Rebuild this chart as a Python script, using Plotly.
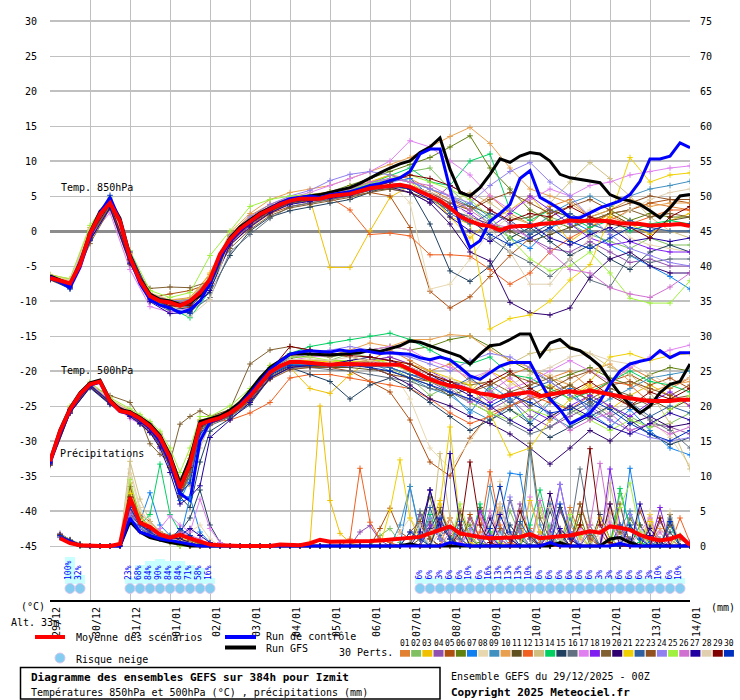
import plotly.graph_objects as go

# ---------------- time axes (hours after 29/12/2025 00Z) ----------------
HOURS_6 = list(range(0, 385, 6))
HOURS_12 = list(range(0, 385, 12))
HOURS_500 = [0, 12, 24, 36, 48, 54, 60, 66, 72, 78, 84, 90, 96] + list(range(108, 385, 12))
PRECIP_HOURS = list(range(6, 385, 6))
DAY_HOURS = list(range(0, 385, 24))
DAY_LABELS = ["29/12", "30/12", "31/12", "01/01", "02/01", "03/01", "04/01", "05/01", "06/01",
              "07/01", "08/01", "09/01", "10/01", "11/01", "12/01", "13/01", "14/01"]
LEFT_TICKS = list(range(-45, 31, 5))
RIGHT_TICKS = list(range(0, 76, 5))

# ---------------- mean / control / GFS (6-hourly) ----------------
MEAN_T850 = [-6.7, -7.1, -7.5, -4.8, -0.4, 2.4, 4.0, 1.4, -3.8, -7.1,
             -9.3, -10.0, -10.2, -10.7, -10.0, -8.8, -6.9, -3.3, -1.2, 0.3,
             1.4, 2.4, 3.1, 3.8, 4.3, 4.6, 4.6, 4.6, 5.0, 5.2,
             5.3, 5.7, 6.1, 6.3, 6.5, 6.6, 6.3, 5.7, 5.0, 4.3,
             3.3, 2.1, 1.4, 0.9, 0.7, 0.1, 0.6, 0.7, 0.7, 1.0,
             1.1, 1.2, 1.5, 1.4, 1.5, 1.5, 1.4, 1.1, 1.1, 1.0,
             0.8, 0.8, 0.9, 1.0, 0.7]
MEAN_T500 = [-32.9, -28.6, -25.5, -23.3, -21.9, -21.5, -24.3, -25.7, -26.0, -26.8,
             -27.9, -29.5, -32.4, -36.7, -33.3, -27.6, -27.1, -26.7, -26.0, -25.0,
             -23.6, -21.9, -20.2, -19.3, -18.7, -18.7, -18.8, -19.0, -19.1, -19.0,
             -19.0, -19.0, -19.1, -19.1, -19.1, -19.1, -19.8, -20.5, -21.2, -21.7,
             -22.1, -22.3, -22.8, -23.2, -23.4, -23.7, -23.4, -23.2, -23.0, -23.6,
             -23.3, -23.1, -22.9, -23.1, -22.8, -23.1, -23.4, -23.6, -23.9, -24.1,
             -24.3, -24.3, -24.3, -24.1, -24.1]
MEAN_PRECIP = [1.1, 0.4, 0.1, 0.0, 0.0, 0.0, 0.3, 6.9, 3.3, 2.7,
               1.6, 1.2, 1.6, 1.1, 0.6, 0.2, 0.1, 0.0, 0.0, 0.0,
               0.0, 0.0, 0.2, 0.1, 0.1, 0.4, 0.9, 0.6, 0.6, 0.6,
               0.6, 0.7, 0.8, 0.9, 1.0, 1.1, 1.3, 1.8, 2.3, 2.8,
               1.8, 1.5, 1.3, 1.1, 1.1, 1.2, 1.3, 1.7, 1.1, 1.3,
               1.4, 1.5, 1.8, 2.1, 1.9, 2.8, 2.6, 2.3, 1.6, 1.1,
               0.8, 1.0, 1.5, 0.1]
CTRL_T850 = [-6.5, -7.2, -8.1, -5.2, -0.8, 2.6, 4.8, 1.5, -4.0, -7.5,
             -9.8, -10.6, -11.0, -11.7, -11.2, -10.0, -7.5, -3.8, -1.5, 0.0,
             1.2, 2.3, 3.2, 4.0, 4.6, 4.8, 5.0, 4.8, 5.2, 5.4,
             5.6, 6.0, 6.5, 6.8, 7.2, 7.6, 8.5, 11.0, 11.7, 11.7,
             6.0, 1.0, -2.4, -1.4, 1.4, 2.5, 3.8, 7.5, 8.6, 4.8,
             4.0, 3.1, 1.9, 1.9, 2.6, 3.3, 3.8, 4.3, 5.2, 7.1,
             10.3, 10.3, 10.7, 12.6, 11.9]
CTRL_T500 = [-33.2, -28.8, -25.7, -23.4, -22.0, -21.6, -24.4, -25.8, -26.1, -27.0,
             -28.2, -30.0, -33.0, -37.5, -38.5, -30.0, -27.3, -26.8, -26.0, -24.8,
             -23.2, -21.5, -19.8, -18.6, -17.6, -17.3, -17.1, -17.2, -17.3, -17.0,
             -17.2, -17.0, -17.3, -17.5, -17.4, -17.5, -17.6, -18.1, -18.4, -18.0,
             -18.4, -19.5, -20.7, -21.2, -20.2, -19.3, -18.8, -18.8, -18.8, -21.5,
             -24.0, -25.5, -27.5, -26.8, -26.0, -24.3, -21.9, -20.0, -19.0, -18.6,
             -18.3, -17.1, -18.1, -17.4, -17.4]
CTRL_PRECIP = {6: 1.2, 12: 0.6, 18: 0.1, 48: 4.0, 54: 2.0, 60: 1.5, 66: 1.0, 72: 0.8, 78: 0.5,
               84: 0.3, 240: 0.5, 246: 0.3, 300: 0.5, 342: 0.4}
GFS_T850 = [-6.4, -7.0, -7.6, -4.6, -0.2, 2.8, 4.3, 1.8, -3.5, -6.8,
            -9.0, -9.8, -10.0, -10.5, -10.2, -9.2, -7.2, -3.5, -1.0, 0.6,
            1.6, 2.6, 3.3, 4.0, 4.5, 4.8, 5.0, 5.2, 5.5, 5.8,
            6.2, 6.8, 7.6, 8.3, 9.0, 9.6, 10.0, 11.2, 12.0, 13.3,
            8.8, 5.5, 5.0, 6.2, 8.1, 10.3, 9.8, 10.7, 11.2, 11.0,
            10.0, 8.1, 7.6, 7.4, 7.1, 6.9, 5.2, 4.6, 4.3, 3.8,
            2.9, 1.9, 3.3, 5.0, 5.2]
GFS_T500 = [-32.8, -28.4, -25.3, -23.1, -21.7, -21.3, -24.1, -25.5, -25.8, -26.6,
            -27.6, -29.2, -32.0, -36.0, -32.5, -27.2, -26.8, -26.4, -25.6, -24.5,
            -22.8, -21.0, -19.5, -18.6, -17.6, -17.5, -17.6, -17.6, -17.7, -17.6,
            -17.5, -17.4, -17.0, -17.2, -16.8, -16.4, -15.7, -15.9, -16.4, -16.9,
            -17.4, -17.9, -19.0, -17.6, -16.4, -16.2, -15.5, -14.7, -14.7, -17.9,
            -16.0, -15.5, -16.7, -17.1, -18.1, -19.3, -21.4, -23.3, -24.8, -26.0,
            -25.0, -23.1, -21.9, -21.5, -19.0]
GFS_PRECIP = {6: 1.1, 12: 0.5, 48: 3.5, 54: 2.0, 60: 1.2, 66: 0.8, 72: 0.5, 78: 0.3,
              216: 0.3, 306: 0.5, 336: 1.0, 342: 1.2, 348: 0.5}

# ---------------- 30 perturbations: T850 (12-hourly) ----------------
T850_01 = [-6.5, -7.3, -0.2, 4.2, -3.5, -9.0, -10.5, -10.2, -6.5, -0.5, 2.2, 3.8, 4.8, 5.2, 5.5, 6.0, 7.0, 8.0, 7.5, 6.0, 4.5, 3.0, 5.0, 2.5, 1.0, 3.5, 4.5, 2.0, 1.5, 3.0, 4.0, 3.5, 3.0]
T850_02 = [-6.6, -7.6, -0.8, 3.8, -4.0, -9.6, -10.8, -10.5, -7.5, -1.5, 1.0, 2.8, 4.0, 4.6, 5.2, 5.8, 6.5, 7.0, 8.5, 9.0, 6.0, 3.5, 1.0, -1.0, 0.5, 2.0, 1.0, -0.5, -1.5, -2.5, -1.0, -2.0, -2.0]
T850_03 = [-6.3, -7.0, 0.2, 4.5, -3.0, -9.0, -10.0, -9.8, -6.0, -0.5, 1.8, 3.5, 4.5, 4.5, -5.2, -5.2, 0.0, 4.8, 6.5, 5.5, 2.0, -1.0, 1.5, 3.0, 5.0, 2.0, -1.5, 0.5, 2.5, 1.0, -0.5, 1.5, 2.5]
T850_04 = [-6.8, -7.8, -1.0, 3.6, -4.5, -9.8, -10.5, -10.3, -7.8, -1.8, 0.8, 2.5, 4.0, 4.8, 5.5, 6.0, 6.5, 6.0, 5.5, 4.0, 6.5, 5.0, 3.0, 1.0, -1.0, -2.5, -3.0, -1.5, -3.0, -4.5, -4.0, -5.0, -5.0]
T850_05 = [-6.9, -8.0, -1.2, 3.5, -4.2, -9.5, -9.0, -8.5, -7.5, -2.0, 0.5, 2.5, 3.5, 4.0, 4.5, 5.0, 5.5, 5.0, 0.5, -8.6, -11.0, -9.4, -6.5, -3.5, -1.0, 0.5, 2.0, 1.0, 2.5, 3.0, 4.0, 4.5, 4.0]
T850_06 = [-6.5, -7.2, 0.0, 4.3, -3.6, -9.1, -10.1, -9.9, -6.8, -0.8, 1.6, 3.3, 4.6, 5.0, 5.6, 6.5, 7.5, 8.5, 9.5, 10.5, 12.0, 13.6, 9.0, 6.0, 3.0, 1.5, 0.5, 2.0, 3.0, 1.5, 2.5, 2.0, 2.0]
T850_07 = [-6.7, -7.4, -0.5, 4.1, -3.9, -9.5, -10.6, -10.8, -7.4, -1.3, 1.2, 3.0, 4.2, 4.5, 5.0, 5.4, 6.2, 7.0, 7.5, 5.0, 3.0, 4.0, 2.0, -1.0, -2.5, 0.5, 1.5, 0.0, -2.0, -3.5, -5.0, -6.5, -8.3]
T850_08 = [-6.4, -7.1, 0.3, 4.4, -3.3, -8.8, -9.8, -9.6, -6.5, -0.6, 1.8, 3.4, 4.5, 5.0, 5.2, 5.5, 6.0, 7.0, 4.0, -8.3, -7.6, -4.0, 0.0, 2.0, 1.0, -0.5, 1.5, 3.0, 2.0, -1.0, -2.0, -2.5, -3.0]
T850_09 = [-6.6, -7.5, -0.3, 4.0, -3.7, -9.2, -10.3, -10.1, -7.1, -1.0, 1.5, 3.2, 4.4, 4.8, 5.3, 5.8, 6.8, 7.5, 7.0, 6.0, 5.0, 3.5, 1.5, -2.0, -0.5, 2.5, 4.0, 5.0, 3.5, 5.0, 6.0, 6.5, 7.1]
T850_10 = [-6.2, -6.9, 0.5, 4.6, -3.2, -8.9, -9.9, -9.5, -6.2, -0.2, 2.5, 4.5, 5.5, 6.0, 6.5, 7.5, 8.5, 9.5, 10.5, 12.0, 13.5, 14.8, 12.5, 9.0, 6.0, 5.0, 4.0, 2.0, 3.0, 4.5, 3.5, 4.0, 4.0]
T850_11 = [-6.8, -7.7, -0.9, 3.7, -4.3, -9.7, -10.9, -10.6, -7.6, -1.6, 1.0, 2.8, 4.0, 4.4, 4.8, 5.2, 5.8, 6.0, 5.5, 4.5, 3.0, 2.0, 1.0, 0.0, -1.5, -0.5, 0.5, 1.5, 2.5, 1.0, 0.5, 1.5, 2.0]
T850_12 = [-6.6, -7.3, -0.4, 4.2, -3.6, -9.4, -10.4, -10.0, -7.0, -1.2, 1.4, 3.0, 4.2, 4.5, 4.8, 3.0, -0.5, -0.3, -0.7, -3.4, -3.4, -3.6, -5.5, -7.6, -6.0, -3.0, -1.0, 0.5, 2.0, 1.0, 2.0, 3.0, 3.0]
T850_13 = [-6.5, -7.4, -0.2, 4.1, -3.7, -9.1, -10.0, -9.8, -6.9, -0.9, 1.6, 3.3, 4.5, 4.9, 5.4, 5.9, 6.5, 7.0, 6.0, 5.0, 4.0, 5.5, 4.0, 2.0, 1.0, 4.0, 7.0, 9.8, 7.5, 5.0, 2.0, 0.0, -1.0]
T850_14 = [-6.7, -7.6, -0.6, 3.9, -3.9, -9.6, -11.0, -12.4, -8.5, -1.4, 1.2, 3.0, 4.3, 4.7, 5.2, 5.7, 6.8, 8.0, 9.0, 7.0, 6.5, 10.0, 11.0, 3.0, 1.5, 3.0, 2.0, 0.5, 1.5, 0.0, 1.0, 1.5, 1.0]
T850_15 = [-6.9, -7.9, -1.4, 3.4, -4.6, -10.0, -11.2, -11.0, -8.8, -3.5, 0.0, 2.0, 2.9, 3.4, 4.0, 4.5, 5.5, 6.5, 6.0, 1.0, -5.7, -7.2, -5.0, -1.0, 0.5, -1.5, -3.5, -2.0, -4.0, -5.5, -3.0, -2.0, -3.0]
T850_16 = [-6.8, -7.8, -1.0, 3.6, -4.4, -9.9, -11.5, -11.5, -9.5, -3.0, -0.5, 1.8, 3.5, 4.0, 4.5, 5.0, 5.8, 6.3, 6.0, 4.5, 3.0, 2.0, -1.0, -3.0, -4.5, -6.5, -4.0, -7.0, -8.0, -3.5, -4.5, -4.0, -4.0]
T850_17 = [-6.5, -7.2, -0.8, 2.6, -5.5, -10.8, -11.6, -11.0, -7.5, -1.0, 1.8, 3.5, 4.8, 5.5, 6.5, 7.5, 8.5, 10.0, 12.9, 12.0, 10.0, 8.0, 5.0, 3.0, 4.5, 6.0, 5.0, 6.5, 7.0, 8.0, 8.5, 9.0, 9.3]
T850_18 = [-6.7, -7.5, -0.4, 4.0, -3.8, -9.3, -10.2, -10.2, -7.3, -1.3, 1.3, 3.0, 4.2, 4.6, 5.1, 5.5, 6.3, 6.9, 6.5, 5.5, 4.0, 2.5, 0.5, 2.5, 5.0, 3.0, 1.0, -1.0, -2.0, -1.5, -2.5, -3.0, -3.0]
T850_19 = [-7.0, -8.2, -1.8, 3.2, -4.8, -8.2, -8.0, -8.1, -7.2, -2.5, 0.2, 2.2, 3.3, 3.8, 4.3, 4.8, 5.5, 6.0, 6.5, 5.5, 4.5, 3.5, 2.5, 1.5, 2.0, 3.0, 2.0, 1.5, 2.5, 3.0, 2.0, 2.5, 2.0]
T850_20 = [-6.6, -7.4, -0.3, 4.1, -3.8, -9.4, -10.5, -10.4, -7.2, -1.2, 1.3, 3.0, 4.2, 4.5, 5.0, 5.3, 6.0, 6.3, 5.5, 4.0, 1.0, -3.0, -4.3, -10.2, -11.7, -12.0, -11.0, -6.6, -4.0, -3.0, -5.0, -6.0, -6.0]
T850_21 = [-6.4, -7.1, 0.1, 4.4, -3.4, -9.0, -10.0, -9.7, -6.6, -0.7, 1.7, 3.4, 4.6, 5.0, 5.5, 6.2, 7.0, 8.0, 7.0, 5.0, 2.0, 1.0, -14.0, -12.5, -12.0, -10.0, -7.0, -4.8, 2.0, 10.5, 7.0, 8.0, 8.3]
T850_22 = [-6.7, -7.6, -0.7, 3.9, -4.0, -9.5, -10.6, -10.4, -7.3, -1.4, 1.1, 2.9, 4.1, 4.5, 4.9, 5.3, 6.0, 6.5, 6.0, 5.0, 2.5, 1.0, 2.5, 1.5, -0.5, 1.0, 2.5, 1.0, 0.0, 1.5, 0.5, 0.0, 0.0]
T850_23 = [-6.8, -7.7, -0.9, 3.7, -4.1, -9.6, -10.8, -10.9, -7.9, -1.7, 0.9, 2.7, 3.9, 4.3, 4.8, 5.2, 5.9, 6.4, 6.5, 5.5, 4.0, 3.0, 4.5, 5.5, 4.0, 2.5, 3.5, 4.5, 3.0, 4.0, 5.0, 4.5, 4.5]
T850_24 = [-6.5, -7.3, -0.1, 4.2, -3.5, -9.0, -10.0, -9.8, -6.7, -0.6, 2.0, 3.8, 5.0, 5.8, 7.2, 8.1, 8.5, 8.0, 7.0, 6.0, 5.0, 4.0, 6.5, 8.5, 9.8, 7.0, 5.0, 2.0, -0.5, -2.5, -3.5, -4.5, -5.0]
T850_25 = [-6.3, -6.8, 0.8, 4.8, -2.8, -8.5, -9.5, -8.8, -3.5, 0.0, 3.5, 4.5, 5.0, 5.2, 5.5, 6.0, 6.8, 7.5, 8.0, 7.0, 6.0, 4.5, 2.0, -1.0, -4.0, -5.7, -5.0, -3.0, -6.0, -9.6, -10.3, -10.3, -7.1]
T850_26 = [-6.6, -7.5, -0.5, 4.0, -3.9, -9.4, -10.3, -10.1, -7.1, -1.2, 1.4, 3.1, 4.3, 4.7, 5.3, 6.0, 7.0, 7.5, 7.0, 6.5, 5.0, 3.0, 1.0, 0.5, -1.0, -3.0, -5.5, -6.0, -8.1, -9.0, -9.5, -8.0, -6.0]
T850_27 = [-6.9, -8.1, -1.3, 3.3, -4.6, -10.1, -11.8, -11.6, -8.5, -2.0, 0.6, 2.6, 3.8, 4.2, 4.7, 5.1, 5.9, 6.6, 6.0, 4.5, 2.0, 0.0, -1.5, 0.5, 1.0, -1.0, -2.0, -0.5, 0.5, -1.5, -1.0, -1.5, -1.0]
T850_28 = [-6.4, -7.0, 0.2, 4.3, -3.4, -9.0, -10.6, -12.2, -9.8, -1.0, 1.5, 3.2, 4.4, 4.8, 5.2, 5.6, 6.2, 6.8, 6.5, 5.5, 4.5, 2.0, 0.5, -3.0, -7.6, -7.6, -4.0, -1.0, 1.0, 3.0, 4.5, 5.5, 6.0]
T850_29 = [-6.7, -7.6, -0.6, 3.9, -4.0, -9.5, -10.7, -10.6, -7.5, -1.5, 1.1, 2.9, 4.1, 4.5, 5.0, 5.4, 6.2, 7.0, 8.0, 7.5, 6.5, 5.0, 3.0, 1.5, 2.5, 2.0, 3.5, 2.0, 1.0, 0.5, -1.0, 2.0, 3.5]
T850_30 = [-6.8, -8.3, -1.1, 5.1, -3.0, -9.2, -11.0, -11.8, -7.8, -1.2, 1.2, 3.0, 4.1, 4.6, 5.0, 5.4, 6.1, 6.6, 6.2, 5.0, 3.5, 1.5, -0.5, -2.0, -1.0, 0.5, -1.5, -2.5, -1.0, 0.5, 0.0, 1.0, 1.0]

# ---------------- 30 perturbations: T500 (HOURS_500) ----------------
T500_01 = [-32.8, -25.4, -21.8, -24.2, -25.8, -26.5, -27.5, -29.0, -32.0, -37.5, -34.0, -27.5, -27.0, -26.0, -23.0, -19.5, -18.0, -17.5, -17.5, -18.0, -18.5, -17.0, -18.5, -20.0, -19.0, -21.5, -22.0, -20.5, -19.5, -21.0, -20.0, -22.5, -21.5, -19.5, -21.0, -22.5, -21.0]
T500_02 = [-33.0, -25.6, -22.0, -24.4, -26.0, -27.0, -28.0, -30.0, -33.0, -38.0, -35.0, -28.0, -27.2, -26.2, -24.0, -20.5, -19.0, -18.5, -18.5, -17.5, -18.0, -19.5, -21.0, -23.5, -22.0, -24.5, -22.5, -25.5, -27.0, -24.0, -25.5, -27.0, -25.0, -26.5, -28.0, -27.5, -26.0]
T500_03 = [-32.7, -25.3, -21.7, -24.0, -25.7, -26.6, -27.6, -29.2, -32.5, -36.0, -32.0, -27.0, -26.8, -25.5, -23.0, -19.8, -19.5, -22.5, -23.2, -20.5, -18.5, -18.0, -19.0, -20.5, -21.5, -23.0, -20.0, -21.5, -23.5, -22.0, -24.0, -22.0, -25.5, -23.5, -22.0, -23.5, -25.0]
T500_04 = [-33.1, -25.7, -22.1, -24.5, -26.2, -27.2, -28.4, -30.5, -33.5, -37.0, -33.0, -27.8, -27.3, -26.4, -24.2, -21.0, -19.5, -19.0, -19.2, -19.5, -18.5, -19.5, -20.5, -21.5, -23.0, -24.0, -25.5, -24.0, -26.5, -28.0, -26.5, -25.0, -27.0, -28.5, -27.5, -28.0, -29.0]
T500_05 = [-33.2, -25.8, -22.2, -24.6, -26.3, -27.4, -28.6, -30.8, -33.8, -37.5, -33.5, -28.0, -27.5, -26.5, -24.5, -21.0, -19.5, -19.3, -19.5, -20.0, -21.5, -23.0, -27.0, -33.0, -35.0, -29.6, -26.0, -25.0, -24.0, -23.0, -22.0, -23.5, -21.5, -20.5, -22.0, -21.0, -22.5]
T500_06 = [-32.8, -25.5, -21.9, -24.2, -25.9, -26.7, -27.8, -29.4, -32.2, -36.5, -33.0, -27.4, -26.9, -25.8, -23.2, -19.7, -18.2, -17.8, -18.0, -17.5, -17.0, -16.5, -17.0, -16.5, -15.5, -15.0, -16.5, -18.5, -20.0, -21.5, -20.5, -19.5, -21.0, -22.0, -20.5, -19.5, -20.0]
T500_07 = [-32.9, -25.5, -21.9, -24.3, -26.0, -26.9, -28.0, -29.8, -33.2, -38.5, -35.5, -28.5, -27.5, -26.3, -24.0, -20.5, -19.0, -19.0, -19.5, -19.2, -19.0, -19.5, -20.5, -21.0, -23.0, -26.0, -22.0, -24.0, -27.5, -24.5, -22.5, -26.0, -28.0, -25.5, -28.5, -31.0, -32.0]
T500_08 = [-32.6, -25.2, -21.6, -24.0, -25.6, -26.4, -27.4, -28.8, -31.5, -36.0, -33.5, -27.5, -27.0, -25.8, -23.5, -20.0, -18.7, -18.7, -19.0, -19.0, -19.0, -19.5, -24.0, -31.0, -33.9, -30.0, -26.0, -24.5, -22.0, -20.5, -22.0, -24.5, -26.0, -24.0, -27.0, -29.5, -33.5]
T500_09 = [-33.0, -25.6, -22.0, -24.4, -26.1, -27.0, -28.2, -29.8, -32.8, -37.0, -34.0, -28.0, -27.2, -26.0, -23.8, -20.4, -19.0, -19.2, -19.5, -19.0, -18.8, -20.0, -21.0, -22.5, -23.5, -25.5, -27.0, -25.0, -23.5, -26.5, -28.0, -25.5, -24.0, -22.5, -21.0, -20.5, -20.0]
T500_10 = [-32.7, -25.3, -21.7, -24.1, -25.7, -26.5, -27.5, -29.0, -31.8, -35.5, -32.5, -27.0, -26.7, -25.5, -22.8, -19.2, -17.8, -17.5, -17.8, -17.0, -16.0, -16.5, -15.5, -15.5, -14.8, -15.0, -17.0, -18.5, -19.5, -21.0, -22.0, -20.0, -19.0, -21.5, -23.0, -22.0, -21.5]
T500_11 = [-33.1, -25.7, -22.1, -24.5, -26.2, -27.1, -28.3, -30.0, -33.0, -37.5, -34.5, -28.2, -27.5, -26.4, -24.2, -20.8, -19.3, -19.3, -19.5, -19.5, -19.8, -20.0, -21.0, -22.0, -23.5, -22.5, -24.0, -23.0, -25.0, -23.5, -22.0, -24.5, -23.0, -25.0, -24.0, -25.5, -24.0]
T500_12 = [-32.9, -25.5, -21.9, -24.3, -25.9, -26.8, -27.9, -29.5, -32.5, -37.0, -33.5, -27.8, -27.3, -27.0, -26.0, -24.5, -21.0, -20.5, -20.5, -21.0, -21.5, -22.0, -22.5, -24.0, -26.0, -27.5, -26.5, -25.0, -23.5, -24.5, -25.5, -23.5, -21.5, -22.0, -24.5, -22.0, -21.0]
T500_13 = [-32.8, -25.4, -21.8, -24.2, -25.8, -26.6, -27.6, -29.0, -31.8, -35.5, -36.5, -31.0, -27.5, -26.2, -23.8, -20.2, -18.6, -18.5, -18.5, -18.8, -18.5, -18.5, -19.5, -21.0, -22.0, -21.5, -20.0, -19.0, -17.5, -17.0, -16.5, -17.5, -19.5, -20.5, -23.0, -27.5, -34.0]
T500_14 = [-33.0, -25.6, -22.0, -24.4, -26.0, -26.9, -28.0, -29.6, -32.6, -36.8, -33.5, -27.8, -27.2, -25.9, -23.2, -19.5, -17.5, -16.5, -16.0, -15.5, -15.0, -14.6, -15.5, -17.0, -18.5, -19.0, -18.0, -20.5, -21.0, -22.5, -24.0, -23.0, -21.5, -20.0, -21.5, -22.0, -23.0]
T500_15 = [-33.3, -26.0, -22.4, -24.8, -26.5, -27.6, -28.8, -30.5, -33.8, -38.0, -39.5, -33.0, -28.6, -26.8, -24.8, -21.0, -19.5, -20.5, -21.5, -24.0, -22.0, -21.0, -22.5, -24.5, -26.5, -28.5, -27.0, -25.5, -27.5, -29.5, -28.0, -26.5, -25.0, -27.0, -29.0, -30.5, -29.5]
T500_16 = [-33.1, -25.8, -22.2, -24.6, -26.3, -27.3, -28.5, -30.2, -33.4, -37.8, -35.0, -28.8, -27.8, -26.6, -24.5, -21.0, -19.6, -19.5, -19.8, -20.0, -20.5, -21.0, -21.5, -22.5, -23.0, -24.5, -26.0, -27.5, -29.0, -28.0, -26.0, -24.5, -26.5, -25.0, -27.0, -28.5, -31.0]
T500_17 = [-32.6, -25.3, -21.7, -24.4, -26.8, -27.5, -28.5, -29.8, -32.0, -36.0, -33.0, -27.5, -27.0, -25.8, -23.5, -20.0, -18.5, -18.0, -17.8, -17.5, -17.0, -16.5, -17.0, -18.5, -19.5, -21.0, -20.0, -22.5, -21.5, -20.0, -18.5, -20.0, -21.5, -19.5, -18.0, -17.0, -16.3]
T500_18 = [-33.0, -25.6, -22.0, -24.3, -26.0, -26.9, -28.0, -29.5, -32.5, -37.0, -33.5, -27.7, -27.2, -26.1, -23.7, -20.3, -18.9, -19.0, -19.0, -18.8, -18.5, -18.0, -19.0, -20.0, -21.5, -22.5, -24.5, -23.0, -25.5, -27.0, -25.0, -23.5, -25.0, -26.5, -24.5, -23.0, -25.0]
T500_19 = [-33.5, -26.0, -22.0, -23.5, -24.5, -26.7, -30.4, -31.9, -33.0, -27.6, -26.5, -25.7, -26.5, -25.5, -19.0, -17.0, -16.5, -17.0, -17.5, -18.0, -18.5, -19.0, -20.0, -21.0, -21.5, -22.0, -21.5, -23.0, -22.0, -21.0, -23.0, -24.0, -22.5, -23.5, -25.0, -24.0, -23.5]
T500_20 = [-32.9, -25.5, -21.9, -24.3, -25.9, -26.8, -27.9, -29.5, -32.4, -36.5, -33.0, -27.5, -27.0, -26.0, -23.5, -20.0, -18.6, -18.7, -19.0, -19.0, -19.5, -20.5, -22.0, -24.0, -25.0, -26.5, -27.5, -29.0, -31.0, -33.3, -31.0, -28.5, -30.0, -27.5, -26.5, -28.0, -27.5]
T500_21 = [-32.7, -25.3, -21.8, -24.2, -25.8, -26.6, -27.7, -29.2, -32.0, -36.2, -33.0, -27.3, -26.9, -25.8, -23.4, -20.0, -18.5, -18.5, -18.7, -18.6, -18.5, -18.5, -19.0, -20.0, -21.0, -22.0, -26.0, -32.0, -31.0, -27.0, -24.0, -21.5, -18.0, -17.5, -18.5, -17.8, -17.5]
T500_22 = [-33.0, -25.6, -22.0, -24.4, -26.0, -26.9, -28.1, -29.7, -32.8, -37.2, -34.0, -28.0, -27.3, -26.2, -23.9, -20.5, -19.0, -19.0, -19.2, -19.2, -19.3, -19.5, -20.5, -21.5, -22.5, -21.0, -23.0, -24.5, -22.5, -21.5, -23.5, -25.0, -23.0, -24.5, -26.5, -25.0, -26.0]
T500_23 = [-33.2, -25.8, -22.2, -24.6, -26.4, -27.3, -28.6, -30.4, -33.6, -37.8, -34.5, -28.5, -27.6, -26.4, -24.3, -21.2, -19.8, -19.5, -19.5, -19.0, -19.5, -20.5, -21.0, -21.5, -22.0, -23.0, -22.0, -20.5, -21.5, -22.5, -21.0, -20.0, -22.0, -21.5, -22.5, -23.5, -22.0]
T500_24 = [-32.8, -25.4, -21.8, -24.2, -25.8, -26.6, -27.6, -29.1, -31.9, -35.8, -32.8, -27.2, -26.8, -25.6, -23.1, -19.6, -18.1, -17.6, -17.0, -16.5, -17.0, -17.5, -18.0, -19.0, -20.0, -18.5, -17.5, -18.0, -19.5, -21.5, -23.5, -25.5, -27.0, -28.5, -29.5, -30.0, -29.5]
T500_25 = [-32.5, -25.0, -21.6, -23.8, -25.4, -26.2, -27.2, -28.6, -31.0, -34.5, -31.0, -26.5, -26.5, -25.0, -22.5, -19.2, -18.0, -18.0, -18.5, -18.5, -18.0, -19.0, -20.0, -21.5, -22.5, -24.5, -26.0, -27.0, -25.5, -26.5, -25.0, -27.0, -28.5, -27.0, -28.0, -25.5, -23.5]
T500_26 = [-32.9, -25.5, -21.9, -24.3, -26.0, -26.9, -28.0, -29.6, -32.6, -36.8, -33.3, -27.6, -27.1, -26.0, -23.6, -20.2, -18.8, -18.8, -19.0, -19.0, -19.0, -19.0, -19.5, -21.0, -22.5, -24.5, -23.0, -21.0, -23.5, -26.0, -28.5, -27.0, -26.0, -28.5, -27.5, -29.0, -28.0]
T500_27 = [-33.3, -26.0, -22.3, -24.7, -26.5, -27.5, -28.8, -31.0, -34.5, -39.0, -38.0, -36.4, -29.5, -27.0, -24.5, -21.0, -19.5, -19.2, -19.0, -18.5, -18.0, -18.5, -19.5, -20.5, -22.0, -23.5, -25.0, -27.0, -28.5, -26.5, -25.0, -26.5, -28.0, -29.0, -27.5, -26.0, -27.0]
T500_28 = [-32.7, -25.3, -21.7, -24.1, -25.8, -26.6, -27.7, -29.3, -32.3, -36.5, -33.0, -27.4, -26.9, -25.7, -23.3, -19.9, -18.4, -18.3, -18.5, -18.0, -18.5, -19.0, -19.5, -20.5, -21.0, -22.5, -24.0, -22.0, -20.5, -19.5, -18.0, -17.5, -18.5, -19.0, -20.5, -22.0, -21.0]
T500_29 = [-33.0, -25.6, -22.0, -24.4, -26.0, -26.9, -28.0, -29.6, -32.7, -37.0, -33.8, -27.9, -27.3, -26.2, -23.9, -20.0, -16.5, -17.0, -17.5, -17.8, -18.0, -18.5, -19.0, -20.5, -21.5, -23.0, -21.5, -20.0, -22.5, -24.0, -23.0, -21.5, -23.5, -25.0, -23.0, -24.0, -22.5]
T500_30 = [-33.0, -25.6, -22.0, -24.4, -26.1, -27.0, -28.2, -30.0, -33.0, -37.5, -36.0, -29.0, -27.4, -26.3, -24.0, -20.6, -19.2, -19.2, -19.3, -19.2, -19.5, -20.0, -21.0, -22.0, -23.0, -24.0, -25.0, -23.5, -24.5, -26.0, -25.5, -24.0, -25.5, -27.5, -29.0, -30.0, -28.5]

# ---------------- 30 perturbations: precipitation (mm / 6 h; hour: value, other steps are 0) ----------------
P_01 = {6: 1.5, 12: 0.8, 18: 0.2, 42: 0.3, 48: 6.5, 54: 3.0, 60: 2.5, 66: 1.0, 72: 1.5, 78: 2.0, 84: 0.8, 90: 0.3, 234: 3.5, 240: 1.0, 258: 4.0, 264: 1.0, 288: 2.5, 294: 0.5, 312: 5.5, 318: 1.5, 336: 6.0, 342: 2.0, 378: 1.5}
P_02 = {6: 1.3, 12: 0.6, 18: 0.1, 48: 5.0, 54: 2.8, 60: 2.0, 66: 1.5, 72: 0.8, 78: 0.5, 84: 0.3, 198: 1.5, 204: 2.5, 210: 0.5, 246: 4.5, 252: 1.0, 276: 5.0, 282: 1.5, 300: 3.0, 306: 1.0, 342: 7.5, 348: 3.0, 354: 0.5}
P_03 = {6: 1.6, 12: 0.9, 18: 0.3, 42: 0.4, 48: 8.0, 54: 4.0, 60: 3.0, 66: 2.0, 72: 1.0, 78: 1.2, 84: 0.6, 90: 0.2, 156: 0.5, 162: 20.0, 168: 6.5, 174: 1.8, 180: 0.5, 228: 3.0, 234: 6.5, 240: 1.0, 264: 2.0, 270: 0.5, 318: 3.0, 324: 1.0, 360: 4.5}
P_04 = {6: 1.4, 12: 0.7, 18: 0.2, 48: 4.5, 54: 3.5, 60: 2.5, 66: 1.8, 72: 1.0, 78: 0.8, 84: 0.4, 186: 2.0, 192: 2.9, 198: 0.8, 222: 4.5, 228: 1.0, 252: 4.0, 258: 1.0, 282: 6.0, 288: 1.5, 306: 5.0, 312: 2.0, 330: 3.5, 366: 3.5, 372: 1.0}
P_05 = {6: 1.5, 12: 0.7, 18: 0.2, 48: 7.0, 54: 4.5, 60: 3.5, 66: 2.0, 72: 1.5, 78: 1.0, 84: 0.5, 198: 2.5, 204: 5.4, 210: 2.0, 216: 1.0, 222: 3.0, 228: 1.0, 252: 4.5, 258: 1.0, 282: 2.5, 288: 1.0, 330: 2.0, 354: 5.0, 360: 1.5}
P_06 = {6: 1.2, 12: 0.6, 48: 5.5, 54: 3.0, 60: 2.0, 66: 1.2, 72: 0.6, 78: 0.4, 222: 3.5, 228: 7.0, 234: 1.5, 246: 1.5, 252: 3.0, 258: 0.5, 294: 2.0, 300: 1.0, 318: 4.5, 348: 4.0, 354: 1.5, 360: 0.5}
P_07 = {6: 1.4, 12: 0.8, 18: 0.2, 48: 6.0, 54: 3.5, 60: 7.6, 66: 3.0, 72: 1.5, 78: 1.0, 84: 7.0, 90: 2.0, 96: 0.5, 216: 8.5, 222: 2.0, 246: 3.5, 270: 4.0, 276: 10.4, 282: 10.2, 288: 2.0, 348: 11.1, 354: 3.0, 360: 0.5}
P_08 = {6: 1.6, 12: 0.9, 18: 0.3, 48: 10.4, 54: 5.0, 60: 3.0, 66: 1.5, 72: 1.0, 78: 0.6, 84: 2.0, 90: 3.0, 96: 1.0, 210: 2.0, 216: 4.0, 222: 2.0, 234: 4.5, 240: 1.0, 270: 9.2, 276: 2.0, 300: 6.5, 306: 2.0, 324: 4.0, 330: 1.0, 360: 5.0}
P_09 = {6: 1.3, 12: 0.6, 18: 0.1, 48: 5.5, 54: 2.5, 60: 2.0, 66: 1.0, 72: 0.8, 78: 1.5, 84: 1.0, 90: 0.5, 210: 3.0, 216: 8.5, 222: 1.5, 264: 8.5, 270: 2.0, 288: 13.7, 294: 3.0, 312: 4.0, 342: 2.5, 348: 5.0, 354: 1.0}
P_10 = {6: 1.5, 12: 0.8, 18: 0.2, 48: 9.0, 54: 4.5, 60: 2.5, 66: 1.2, 72: 0.6, 78: 0.4, 234: 2.0, 240: 4.0, 246: 1.0, 270: 6.0, 276: 1.5, 312: 3.0, 318: 1.0, 336: 5.0, 342: 2.0, 366: 2.5, 372: 1.0}
P_11 = {6: 1.4, 12: 0.7, 18: 0.2, 48: 4.0, 54: 2.5, 60: 1.8, 66: 1.0, 72: 0.6, 78: 1.0, 84: 0.5, 222: 1.0, 228: 3.5, 234: 1.0, 258: 5.5, 264: 1.5, 300: 2.0, 306: 5.5, 312: 1.0, 354: 3.0, 360: 1.0}
P_12 = {6: 1.5, 12: 0.8, 18: 0.2, 48: 6.0, 54: 3.0, 60: 2.5, 66: 1.5, 72: 1.0, 78: 0.6, 84: 0.3, 180: 1.0, 186: 11.1, 192: 3.4, 198: 1.0, 204: 0.5, 240: 4.0, 246: 1.0, 258: 2.0, 264: 10.6, 270: 3.0, 276: 0.5, 318: 6.0, 324: 2.0, 378: 4.0, 384: 0.5}
P_13 = {6: 1.6, 12: 0.9, 18: 0.3, 42: 0.5, 48: 12.1, 54: 6.7, 60: 3.5, 66: 2.0, 72: 1.0, 78: 0.8, 84: 0.5, 234: 13.2, 240: 4.0, 246: 1.0, 270: 5.5, 276: 1.5, 294: 5.0, 300: 1.5, 336: 9.0, 342: 2.0, 366: 4.0}
P_14 = {6: 1.3, 12: 0.6, 48: 5.0, 54: 3.0, 60: 4.5, 66: 11.7, 72: 4.5, 78: 2.0, 84: 1.0, 90: 0.4, 228: 4.5, 234: 1.0, 258: 6.0, 264: 2.0, 288: 3.0, 294: 8.0, 300: 2.0, 342: 8.2, 348: 2.5, 354: 0.5, 372: 3.0}
P_15 = {6: 1.4, 12: 0.7, 18: 0.2, 48: 4.5, 54: 3.0, 60: 2.0, 66: 1.5, 72: 1.0, 78: 2.0, 84: 4.0, 90: 8.0, 96: 3.0, 102: 0.5, 228: 2.5, 234: 5.0, 240: 1.5, 276: 3.0, 282: 1.0, 300: 5.0, 306: 1.5, 330: 4.5, 336: 1.0, 372: 2.0}
P_16 = {6: 1.5, 12: 0.8, 18: 0.2, 48: 5.5, 54: 3.0, 60: 2.0, 66: 1.5, 72: 0.8, 78: 0.5, 84: 0.3, 222: 5.0, 228: 1.0, 246: 2.5, 252: 1.0, 276: 6.5, 282: 2.0, 312: 2.0, 318: 11.0, 324: 3.0, 360: 3.0, 366: 1.0}
P_17 = {6: 1.3, 12: 0.7, 18: 0.2, 48: 3.5, 54: 2.0, 60: 1.5, 66: 2.5, 72: 4.3, 78: 3.0, 84: 2.0, 90: 6.7, 96: 2.5, 102: 0.5, 252: 2.0, 258: 4.5, 264: 1.0, 288: 7.0, 294: 1.5, 318: 2.5, 324: 1.0, 336: 4.0, 354: 2.0, 360: 4.0}
P_18 = {6: 1.8, 12: 0.9, 18: 0.3, 48: 6.0, 54: 3.5, 60: 2.5, 66: 1.5, 72: 0.8, 78: 0.6, 84: 0.3, 228: 3.0, 234: 1.0, 258: 5.0, 264: 1.5, 300: 2.0, 306: 8.8, 312: 2.0, 336: 11.0, 342: 3.0, 366: 5.5, 384: 0.5}
P_19 = {6: 1.5, 12: 0.7, 18: 0.2, 48: 8.5, 54: 4.0, 60: 2.5, 66: 1.0, 72: 0.5, 234: 5.5, 240: 1.5, 282: 3.0, 288: 14.7, 294: 4.0, 300: 1.0, 318: 6.0, 324: 1.5, 342: 2.0, 348: 1.0, 372: 4.5}
P_20 = {6: 1.4, 12: 0.7, 18: 0.2, 48: 5.0, 54: 3.0, 60: 2.2, 66: 1.6, 72: 1.2, 78: 1.0, 84: 0.5, 228: 8.0, 234: 3.0, 240: 1.0, 264: 4.0, 270: 1.0, 300: 7.5, 306: 2.0, 336: 6.0, 360: 2.5, 366: 0.5}
P_21 = {6: 1.5, 12: 0.8, 18: 0.2, 48: 7.5, 54: 3.5, 60: 2.5, 66: 1.5, 72: 1.0, 78: 0.5, 204: 5.1, 210: 12.3, 216: 4.0, 222: 1.0, 234: 6.0, 240: 17.0, 246: 3.0, 252: 0.5, 288: 6.5, 294: 2.0, 330: 4.0, 336: 1.0, 360: 3.5}
P_22 = {6: 1.4, 12: 0.7, 18: 0.2, 48: 4.0, 54: 2.5, 60: 1.5, 66: 1.0, 72: 0.8, 78: 0.6, 84: 0.4, 228: 5.5, 234: 1.5, 240: 2.5, 246: 1.0, 282: 3.5, 288: 1.0, 300: 6.0, 306: 1.0, 324: 2.0, 342: 3.0, 348: 1.0, 372: 4.0}
P_23 = {6: 1.6, 12: 0.8, 18: 0.2, 48: 6.5, 54: 3.5, 60: 2.5, 66: 1.5, 72: 1.0, 78: 1.5, 84: 0.8, 90: 0.3, 216: 2.0, 222: 3.5, 228: 1.0, 246: 5.0, 252: 1.5, 270: 2.5, 276: 1.0, 318: 3.0, 324: 1.0, 342: 6.0, 372: 3.0, 378: 1.0}
P_24 = {6: 1.3, 12: 0.6, 48: 4.5, 54: 2.5, 60: 2.0, 66: 1.5, 72: 0.8, 78: 0.5, 228: 4.0, 234: 1.0, 252: 2.5, 258: 1.0, 276: 7.0, 282: 2.0, 306: 8.8, 312: 2.0, 348: 4.5, 354: 1.5}
P_25 = {6: 1.7, 12: 0.9, 18: 0.3, 48: 9.5, 54: 4.0, 60: 2.5, 66: 1.0, 72: 0.5, 246: 6.0, 252: 1.5, 294: 5.5, 300: 1.5, 312: 4.5, 318: 1.5, 342: 5.5, 348: 9.0, 354: 2.0, 378: 1.5}
P_26 = {6: 1.4, 12: 0.7, 18: 0.2, 48: 5.0, 54: 3.0, 60: 2.0, 66: 1.5, 72: 1.0, 78: 2.0, 84: 1.5, 90: 1.0, 240: 2.0, 246: 0.5, 264: 5.0, 270: 1.0, 294: 6.5, 300: 1.5, 324: 3.0, 330: 11.8, 336: 3.0, 342: 1.0, 366: 2.0}
P_27 = {6: 1.5, 12: 0.8, 18: 0.2, 48: 6.5, 54: 3.5, 60: 2.5, 66: 1.5, 72: 1.0, 78: 1.5, 84: 2.5, 90: 1.5, 96: 0.5, 222: 2.0, 228: 8.0, 234: 2.0, 240: 13.2, 246: 3.0, 270: 4.5, 276: 1.0, 306: 2.5, 312: 1.0, 354: 6.0, 360: 1.5}
P_28 = {6: 1.5, 12: 0.8, 18: 0.2, 48: 11.0, 54: 5.5, 60: 3.0, 66: 1.5, 72: 1.0, 78: 0.6, 84: 0.4, 222: 3.0, 234: 2.0, 264: 3.0, 270: 6.0, 276: 1.5, 300: 5.5, 306: 1.0, 330: 2.0, 336: 4.0, 342: 1.0, 372: 5.0}
P_29 = {6: 1.6, 12: 0.8, 18: 0.2, 48: 7.0, 54: 3.5, 60: 2.5, 66: 1.5, 72: 0.8, 78: 0.5, 246: 2.0, 252: 12.0, 258: 3.0, 264: 0.5, 282: 5.0, 288: 1.5, 318: 3.0, 324: 13.9, 330: 3.0, 336: 0.5, 366: 4.0}
P_30 = {6: 1.5, 12: 0.8, 18: 0.2, 48: 5.5, 54: 3.0, 60: 2.0, 66: 1.2, 72: 0.8, 78: 2.5, 84: 1.5, 90: 0.5, 216: 2.0, 222: 1.0, 234: 4.0, 240: 1.0, 264: 2.5, 270: 8.5, 276: 2.0, 306: 6.0, 312: 1.5, 348: 3.0, 354: 1.0, 372: 3.5}

MEMBER_COLORS = ["#e08030", "#80c060", "#f0c000", "#9050b0", "#b05010", "#608010", "#1080f0", "#e8d8b0",
                 "#4090c0", "#e8a050", "#605020", "#f06020", "#d0c080", "#00d060", "#204060", "#607080",
                 "#e080f0", "#8020f0", "#806030", "#300070", "#f0d000", "#3060a0", "#905020", "#9080f0",
                 "#a0f040", "#d070d0", "#2000a0", "#e0d0b0", "#800000", "#0030c0"]

# ---------------- snow risk (% of members) ----------------
SNOW_HOURS = [12, 18, 48, 54, 60, 66, 72, 78, 84, 90, 96] + list(range(222, 379, 6))
SNOW_PCT = [100, 32, 23, 68, 84, 90, 84, 84, 71, 58, 16,
            6, 6, 3, 6, 6, 10, 6, 16, 13, 13, 13, 10, 6, 6, 6, 6, 6, 6, 3, 3, 6, 6, 6, 3, 10, 6, 10]

T850_M = [T850_01, T850_02, T850_03, T850_04, T850_05, T850_06, T850_07, T850_08, T850_09, T850_10,
          T850_11, T850_12, T850_13, T850_14, T850_15, T850_16, T850_17, T850_18, T850_19, T850_20,
          T850_21, T850_22, T850_23, T850_24, T850_25, T850_26, T850_27, T850_28, T850_29, T850_30]
T500_M = [T500_01, T500_02, T500_03, T500_04, T500_05, T500_06, T500_07, T500_08, T500_09, T500_10,
          T500_11, T500_12, T500_13, T500_14, T500_15, T500_16, T500_17, T500_18, T500_19, T500_20,
          T500_21, T500_22, T500_23, T500_24, T500_25, T500_26, T500_27, T500_28, T500_29, T500_30]
P_M = [P_01, P_02, P_03, P_04, P_05, P_06, P_07, P_08, P_09, P_10, P_11, P_12, P_13, P_14, P_15,
       P_16, P_17, P_18, P_19, P_20, P_21, P_22, P_23, P_24, P_25, P_26, P_27, P_28, P_29, P_30]

for i, a in enumerate(T850_M):
    if len(a) != len(HOURS_12):
        raise ValueError(f"T850_{i+1:02d} has {len(a)}")
for i, a in enumerate(T500_M):
    if len(a) != len(HOURS_500):
        raise ValueError(f"T500_{i+1:02d} has {len(a)}")
for nm, a in [("MEAN_T850", MEAN_T850), ("MEAN_T500", MEAN_T500), ("CTRL_T850", CTRL_T850),
              ("CTRL_T500", CTRL_T500), ("GFS_T850", GFS_T850), ("GFS_T500", GFS_T500)]:
    if len(a) != len(HOURS_6):
        raise ValueError(f"{nm} has {len(a)}")
if len(MEAN_PRECIP) != len(PRECIP_HOURS) or len(SNOW_PCT) != len(SNOW_HOURS):
    raise ValueError("precip/snow length")


def expand(p):
    return [p.get(h, 0.0) for h in PRECIP_HOURS]


MONO = "DejaVu Sans Mono"
Y_RANGE = [-52.714, 33.0]          # left axis (°C); 7 px per unit over a 600 px plot


def fx(px):
    return (px - 50) / 640.0


def fy(py):
    return (600 - py) / 600.0


def val(py):
    return 30 - (py - 21) / 7.0


fig = go.Figure()

# snow risk boxes and flakes
fig.add_trace(go.Bar(x=SNOW_HOURS, y=[max(6.0, 27.3 * p / 100.0) / 7.0 for p in SNOW_PCT],
                     base=val(584), width=6, marker=dict(color="#c8ffff", line=dict(width=0)),
                     hoverinfo="skip", showlegend=False))
fig.add_trace(go.Scatter(x=SNOW_HOURS, y=[val(588.5)] * len(SNOW_HOURS), mode="markers",
                         marker=dict(symbol="circle", size=10, color="#84ccf0",
                                     line=dict(color="#d4c8ee", width=1)),
                         hoverinfo="skip", showlegend=False))

# perturbations
for i in range(30):
    c = MEMBER_COLORS[i]
    mk = dict(symbol="cross-thin", size=4, color=c, line=dict(color=c, width=1))
    fig.add_trace(go.Scatter(x=HOURS_12, y=T850_M[i], mode="lines+markers",
                             line=dict(color=c, width=1), marker=mk, hoverinfo="skip", showlegend=False))
    fig.add_trace(go.Scatter(x=HOURS_500, y=T500_M[i], mode="lines+markers",
                             line=dict(color=c, width=1), marker=mk, hoverinfo="skip", showlegend=False))
    fig.add_trace(go.Scatter(x=PRECIP_HOURS, y=expand(P_M[i]), yaxis="y2", mode="lines+markers",
                             line=dict(color=c, width=1), marker=mk, hoverinfo="skip", showlegend=False))

# GFS, control, mean
for t850, t500, pr, color, width in [(GFS_T850, GFS_T500, expand(GFS_PRECIP), "#000000", 3),
                                     (CTRL_T850, CTRL_T500, expand(CTRL_PRECIP), "#0000ff", 3),
                                     (MEAN_T850, MEAN_T500, MEAN_PRECIP, "#ff0000", 4)]:
    fig.add_trace(go.Scatter(x=HOURS_6, y=t850, mode="lines", line=dict(color=color, width=width),
                             hoverinfo="skip", showlegend=False))
    fig.add_trace(go.Scatter(x=HOURS_6, y=t500, mode="lines", line=dict(color=color, width=width),
                             hoverinfo="skip", showlegend=False))
    fig.add_trace(go.Scatter(x=PRECIP_HOURS, y=pr, yaxis="y2", mode="lines",
                             line=dict(color=color, width=width), hoverinfo="skip", showlegend=False))

shapes = []
for v in [30, 20, 10, -10, -20, -30, -40]:
    shapes.append(dict(type="line", xref="x", yref="y", x0=0, x1=384, y0=v, y1=v,
                       line=dict(color="#c0c0c0", width=2.2), layer="below"))

shapes.append(dict(type="line", xref="paper", yref="paper", x0=fx(35), x1=fx(65), y0=fy(637), y1=fy(637),
                   line=dict(color="#ff0000", width=4)))
shapes.append(dict(type="line", xref="paper", yref="paper", x0=fx(225), x1=fx(256), y0=fy(637), y1=fy(637),
                   line=dict(color="#0000ff", width=4)))
shapes.append(dict(type="line", xref="paper", yref="paper", x0=fx(225), x1=fx(256), y0=fy(647.5), y1=fy(647.5),
                   line=dict(color="#000000", width=4)))
shapes.append(dict(type="circle", xref="paper", yref="paper", x0=fx(55), x1=fx(65), y0=fy(663), y1=fy(653),
                   fillcolor="#84ccf0", line=dict(color="#d4c8ee", width=1)))
for i, c in enumerate(MEMBER_COLORS):
    x0 = 400 + 11.17 * i
    shapes.append(dict(type="rect", xref="paper", yref="paper", x0=fx(x0), x1=fx(x0 + 10),
                       y0=fy(656.7), y1=fy(650), fillcolor=c, line=dict(width=0)))
shapes.append(dict(type="rect", xref="paper", yref="paper", x0=fx(20.5), x1=fx(440), y0=fy(699), y1=fy(667.5),
                   line=dict(color="#000000", width=1.5), fillcolor="rgba(0,0,0,0)"))

ann = []


def text(px, py, s, size=10, bold=False, xanchor="left", color="#000000"):
    ann.append(dict(x=fx(px), y=fy(py), xref="paper", yref="paper", text=("<b>%s</b>" % s) if bold else s,
                    showarrow=False, xanchor=xanchor, yanchor="middle",
                    font=dict(family=MONO, size=size, color=color), borderpad=0))


text(60, 187.5, "Temp. 850hPa")
text(60, 370.5, "Temp. 500hPa")
text(59, 454, "Précipitations")
text(20, 606, "(°C)")
text(710, 607, "(mm)")
text(10, 622, "Alt. 33m")
text(75, 637, "Moyenne des scénarios")
text(265, 636.5, "Run de contrôle")
text(265, 648, "Run GFS")
text(75, 659, "Risque neige")
text(338, 652, "30 Perts.")
text(30, 677, "Diagramme des ensembles GEFS sur 384h pour Izmit", size=11, bold=True)
text(30, 692, "Températures 850hPa et 500hPa (°C) , précipitations (mm)")
text(450, 676, "Ensemble GEFS du 29/12/2025 - 00Z")
text(450, 692, "Copyright 2025 Meteociel.fr", size=11, bold=True)
for i in range(30):
    text(400 + 11.17 * i + 5, 643.5, "%02d" % (i + 1), size=8, xanchor="center")

for h, p in zip(SNOW_HOURS, SNOW_PCT):
    ann.append(dict(x=h - 0.9, y=val(581), xref="x", yref="y", text="%d%%" % p, textangle=-90,
                    showarrow=False, xanchor="center", yanchor="bottom", borderpad=0,
                    font=dict(family=MONO, size=8, color="#0000ff")))

fig.update_layout(
    template="none",
    width=740, height=700,
    margin=dict(l=50, r=50, t=0, b=100, pad=0),
    paper_bgcolor="#ffffff", plot_bgcolor="#ffffff",
    font=dict(family=MONO, size=10, color="#000000"),
    showlegend=False,
    bargap=0,
    xaxis=dict(range=[0, 384], tickvals=DAY_HOURS, ticktext=DAY_LABELS, tickangle=-90,
               showgrid=True, gridcolor="#c0c0c0", gridwidth=1, zeroline=False,
               showline=True, linecolor="#000000", linewidth=2, ticks="", automargin=False,
               ticklabelshift=7, ticklabelstandoff=1,
               tickfont=dict(family=MONO, size=10, color="#000000")),
    yaxis=dict(range=Y_RANGE, tickvals=LEFT_TICKS, ticktext=[str(v) for v in LEFT_TICKS],
               showgrid=True, gridcolor="#c0c0c0", gridwidth=1,
               zeroline=True, zerolinecolor="#8c8c8c", zerolinewidth=2.5,
               showline=False, ticks="", automargin=False, ticklabelstandoff=12,
               tickfont=dict(family=MONO, size=10, color="#000000")),
    yaxis2=dict(range=[Y_RANGE[0] + 45, Y_RANGE[1] + 45], overlaying="y", side="right",
                tickvals=RIGHT_TICKS, ticktext=[str(v) for v in RIGHT_TICKS],
                showgrid=False, zeroline=False, showline=False, ticks="", automargin=False,
                ticklabelstandoff=9, tickfont=dict(family=MONO, size=10, color="#000000")),
    shapes=shapes,
    annotations=ann,
)

fig.write_html("out.html", config={"displayModeBar": False},
               post_script="document.body.style.margin='0';document.body.style.overflow='hidden';")
